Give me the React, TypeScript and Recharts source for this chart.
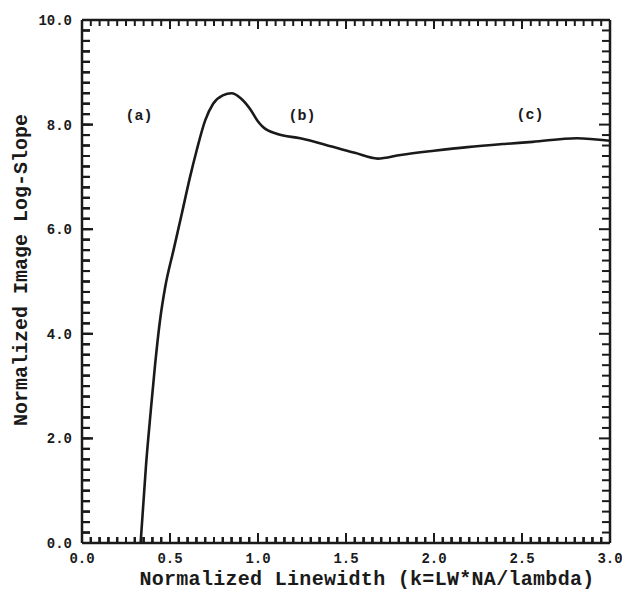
import React from 'react';
import { ComposedChart, Line, XAxis, YAxis, ReferenceLine } from 'recharts';

// ---- data ----
const kValues = [0.333, 0.364, 0.39, 0.415, 0.443, 0.472, 0.52, 0.566, 0.614, 0.651, 0.7, 0.745, 0.8, 0.85, 0.9, 0.955, 1.0, 1.03, 1.11, 1.24, 1.43, 1.55, 1.68, 1.81, 2.0, 2.19, 2.4, 2.56, 2.81, 3.0];
const logSlope = [0, 1.5, 2.5, 3.4, 4.25, 4.88, 5.6, 6.28, 7.0, 7.5, 8.08, 8.4, 8.56, 8.6, 8.51, 8.3, 8.06, 7.95, 7.82, 7.74, 7.57, 7.46, 7.35, 7.42, 7.5, 7.57, 7.63, 7.67, 7.74, 7.69];

const xMajorTicks = [0, 0.5, 1.0, 1.5, 2.0, 2.5, 3.0];
const yMajorTicks = [0, 2, 4, 6, 8, 10];
const xMinorStep = 0.05;
const yMinorStep = 0.2;

const annotationLabels = ['(a)', '(b)', '(c)'];
const annotationX = [0.324, 1.25, 2.545];
const annotationY = [8.18, 8.18, 8.2];

const xTitle = 'Normalized Linewidth (k=LW*NA/lambda)';
const yTitle = 'Normalized Image Log-Slope';

// ---- derived structures ----
const data = kValues.map((k, i) => ({ k, s: logSlope[i] }));
const xTicks: number[] = [];
for (let i = 0; i <= Math.round(3 / xMinorStep); i++) xTicks.push(+(i * xMinorStep).toFixed(2));
const yTicks: number[] = [];
for (let i = 0; i <= Math.round(10 / yMinorStep); i++) yTicks.push(+(i * yMinorStep).toFixed(1));

const FONT = '"Liberation Mono", "DejaVu Sans Mono", monospace';
const INK = '#1a1a1a';
const near = (v: number, arr: number[]) => arr.some((a) => Math.abs(a - v) < 1e-6);

// layout
const W = 622;
const H = 597;
const MARGIN = { top: 20, right: 12, bottom: 12, left: 22 };
const X_AXIS_H = 42;
const Y_AXIS_W = 60;
const PLOT_LEFT = MARGIN.left + Y_AXIS_W;
const PLOT_TOP = MARGIN.top;
const PLOT_RIGHT = W - MARGIN.right;
const PLOT_BOTTOM = H - MARGIN.bottom - X_AXIS_H;
const X_UNITS_PER_PX = 3 / (PLOT_RIGHT - PLOT_LEFT);
const Y_UNITS_PER_PX = 10 / (PLOT_BOTTOM - PLOT_TOP);

const X_MINOR = 6;
const X_MAJOR = 10;
const Y_MINOR = 8;
const Y_MAJOR = 11;
const TICK_W = 2;

function BottomTick(props: any) {
  const { x, y, payload } = props;
  const major = near(payload.value, xMajorTicks);
  const ay = y + X_MINOR;
  const topLen = major ? X_MAJOR - 1 : X_MINOR;
  return (
    <g>
      <path d={`M${x},${ay}V${ay - (major ? X_MAJOR : X_MINOR)}`} stroke={INK} strokeWidth={TICK_W} fill="none" />
      <path d={`M${x},${PLOT_TOP}V${PLOT_TOP + topLen}`} stroke={INK} strokeWidth={TICK_W} fill="none" />
      {major && (
        <text x={x} y={ay + 20} textAnchor="middle" fontFamily={FONT} fontWeight="bold" fontSize={14} fill={INK}>
          {payload.value.toFixed(1)}
        </text>
      )}
    </g>
  );
}

function LeftTick(props: any) {
  const { x, y, payload } = props;
  const major = near(payload.value, yMajorTicks);
  const ax = x - Y_MINOR;
  const len = major ? Y_MAJOR : Y_MINOR;
  return (
    <g>
      <path d={`M${ax},${y}H${ax + len}`} stroke={INK} strokeWidth={TICK_W} fill="none" />
      <path d={`M${PLOT_RIGHT},${y}H${PLOT_RIGHT - len}`} stroke={INK} strokeWidth={TICK_W} fill="none" />
      {major && (
        <text x={ax - 10} y={y + 5} textAnchor="end" fontFamily={FONT} fontWeight="bold" fontSize={14} fill={INK}>
          {payload.value.toFixed(1)}
        </text>
      )}
    </g>
  );
}

const axisLine = { stroke: INK, strokeWidth: 2.5 };
const tickLineStyle = { stroke: INK, strokeWidth: TICK_W };
const titleStyle = { fontFamily: FONT, fontWeight: 'bold' as const, fontSize: 20, fill: INK };

export default function App() {
  return (
    <div style={{ position: 'absolute', left: 0, top: 0, width: W, height: H, background: '#fff' }}>
      <ComposedChart width={W} height={H} data={data} margin={MARGIN}>
        <XAxis
          xAxisId="b"
          dataKey="k"
          type="number"
          domain={[0, 3]}
          ticks={xTicks}
          interval={0}
          allowDataOverflow
          height={X_AXIS_H}
          tickSize={-X_MINOR}
          tickMargin={0}
          tickLine={tickLineStyle}
          axisLine={axisLine}
          tick={(p: any) => <BottomTick {...p} />}
        />
        <YAxis
          yAxisId="l"
          type="number"
          domain={[0, 10]}
          ticks={yTicks}
          interval={0}
          allowDataOverflow
          width={Y_AXIS_W}
          tickSize={-Y_MINOR}
          tickMargin={0}
          tickLine={tickLineStyle}
          axisLine={axisLine}
          tick={(p: any) => <LeftTick {...p} />}
        />
        {xTicks.map((v) => (
          <ReferenceLine
            key={`xt${v}`}
            xAxisId="b"
            yAxisId="l"
            segment={[
              { x: v, y: 0 },
              { x: v, y: (near(v, xMajorTicks) ? X_MAJOR : X_MINOR) * Y_UNITS_PER_PX },
            ]}
            stroke={INK}
            strokeWidth={TICK_W}
          />
        ))}
        {yTicks.map((v) => (
          <ReferenceLine
            key={`yt${v}`}
            xAxisId="b"
            yAxisId="l"
            segment={[
              { x: 0, y: v },
              { x: (near(v, yMajorTicks) ? Y_MAJOR : Y_MINOR) * X_UNITS_PER_PX, y: v },
            ]}
            stroke={INK}
            strokeWidth={TICK_W}
          />
        ))}
        <ReferenceLine xAxisId="b" yAxisId="l" y={10} stroke={INK} strokeWidth={2.5} />
        <ReferenceLine xAxisId="b" yAxisId="l" x={3} stroke={INK} strokeWidth={2.5} />
        <Line
          xAxisId="b"
          yAxisId="l"
          dataKey="s"
          type="monotone"
          stroke={INK}
          strokeWidth={2.6}
          dot={false}
          activeDot={false}
          isAnimationActive={false}
        />
        {annotationLabels.map((lab, i) => (
          <text
            key={lab}
            x={PLOT_LEFT + annotationX[i] / X_UNITS_PER_PX}
            y={PLOT_BOTTOM - annotationY[i] / Y_UNITS_PER_PX + 5}
            textAnchor="middle"
            style={{ fontFamily: FONT, fontWeight: 'bold', fontSize: 15, fill: INK }}
          >
            {lab}
          </text>
        ))}
        <text x={367} y={585} textAnchor="middle" style={{ ...titleStyle, letterSpacing: 0.3 }}>
          {xTitle}
        </text>
        <text x={27} y={270} textAnchor="middle" transform="rotate(-90, 27, 270)" style={titleStyle}>
          {yTitle}
        </text>
      </ComposedChart>
    </div>
  );
}
